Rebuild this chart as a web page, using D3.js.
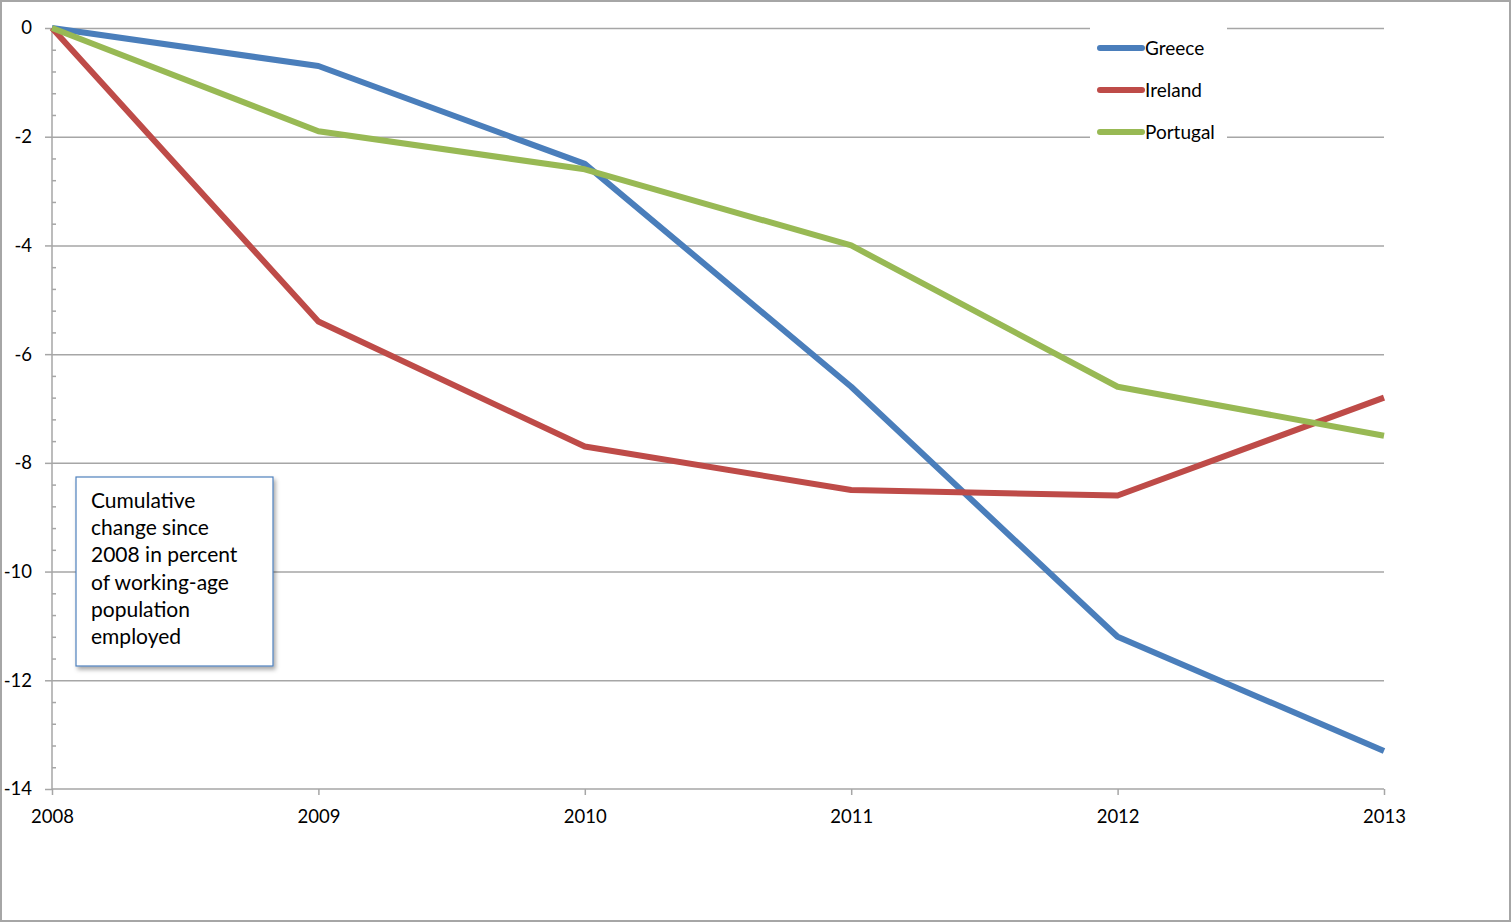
<!DOCTYPE html>
<html>
<head>
<meta charset="utf-8">
<script src="https://cdn.jsdelivr.net/npm/d3@7"></script>
<style>
  body { margin: 0; background: #fff; }
  svg { display: block; font-family: Lato, "Open Sans", sans-serif; }
  .axis text { font-size: 18.5px; fill: #000; font-family: Lato, "Open Sans", sans-serif; }
  .axis line { stroke: #a6a6a6; stroke-width: 1.5px; }
  .grid line { stroke: #a6a6a6; stroke-width: 1.5px; }
  .grid text { display: none; }
  .line { fill: none; stroke-width: 6px; stroke-linejoin: round; }
</style>
</head>
<body>
<div id="chart"></div>
<script>
// data
var years = [2008, 2009, 2010, 2011, 2012, 2013];
var greece = [0, -0.7, -2.5, -6.6, -11.2, -13.3];
var ireland = [0, -5.4, -7.7, -8.5, -8.6, -6.8];
var portugal = [0, -1.9, -2.6, -4.0, -6.6, -7.5];
var yTicks = [0, -2, -4, -6, -8, -10, -12, -14];
var seriesNames = ['Greece', 'Ireland', 'Portugal'];
var seriesColors = ['#4a7ebb', '#be4b48', '#98b954'];
var noteLines = ['Cumulative', 'change since', '2008 in percent', 'of working-age', 'population', 'employed'];

var series = [greece, ireland, portugal];

// set the dimensions and margins of the graph
var W = 1512, H = 923;
var margin = { top: 28, left: 52 };
var width = 1384 - 52;
var height = 789 - 28;

var svg = d3.select('#chart').append('svg')
  .attr('width', W)
  .attr('height', H);

// outer frame
svg.append('rect')
  .attr('x', 1)
  .attr('y', 1)
  .attr('width', W - 3)
  .attr('height', H - 3)
  .style('fill', 'none')
  .style('stroke', '#a6a6a6')
  .style('stroke-width', 2);

var defs = svg.append('defs');
var shadow = defs.append('filter').attr('id', 'shadow')
  .attr('x', '-10%').attr('y', '-10%').attr('width', '130%').attr('height', '130%');
shadow.append('feDropShadow')
  .attr('dx', 2).attr('dy', 3).attr('stdDeviation', 2)
  .attr('flood-color', '#000').attr('flood-opacity', 0.35);

var g = svg.append('g')
  .attr('transform', 'translate(' + margin.left + ',' + margin.top + ')');

// set the ranges
var x = d3.scaleLinear().domain([2008, 2013]).range([0, width]);
var y = d3.scaleLinear().domain([0, -14]).range([0, height]);

// gridlines
g.append('g')
  .attr('class', 'grid')
  .call(d3.axisLeft(y).tickValues(yTicks.slice(0, -1)).tickSize(-width))
  .call(function (s) { s.select('.domain').remove(); });

// minor ticks
var minor = d3.range(0, -14, -0.4).filter(function (v) {
  return Math.abs(v / 2 - Math.round(v / 2)) > 0.01;
});
g.append('g')
  .attr('class', 'axis')
  .call(d3.axisLeft(y).tickValues(minor).tickSize(-4).tickFormat(''))
  .call(function (s) { s.select('.domain').remove(); });

// y axis
g.append('g')
  .attr('class', 'axis')
  .call(d3.axisLeft(y).tickValues(yTicks).tickSize(7).tickPadding(13).tickFormat(d3.format('d')))
  .call(function (s) {
    s.select('.domain').remove();
    s.selectAll('text').text(function (d) { return d === 0 ? '0' : '-' + Math.abs(d); });
  });

g.append('line')
  .attr('x1', 0).attr('x2', 0).attr('y1', 0).attr('y2', height)
  .style('stroke', '#a6a6a6').style('stroke-width', 1.5);

// x axis
g.append('g')
  .attr('class', 'axis')
  .attr('transform', 'translate(0,' + height + ')')
  .call(d3.axisBottom(x).tickValues(years).tickSize(6).tickPadding(15).tickFormat(d3.format('d')))
  .call(function (s) { s.select('.domain').remove(); });

g.append('line')
  .attr('x1', 0).attr('x2', width).attr('y1', height).attr('y2', height)
  .style('stroke', '#a6a6a6').style('stroke-width', 1.5);

// lines
var valueline = d3.line()
  .x(function (d, i) { return x(years[i]); })
  .y(function (d) { return y(d); });

series.forEach(function (s, i) {
  g.append('path')
    .datum(s)
    .attr('class', 'line')
    .style('stroke', seriesColors[i])
    .attr('d', valueline);
});

// legend
var legend = svg.append('g').attr('transform', 'translate(1090,20)');
legend.append('rect')
  .attr('width', 137)
  .attr('height', 130)
  .style('fill', '#fff');

seriesNames.forEach(function (name, i) {
  var ly = 28 + i * 42;
  legend.append('line')
    .attr('x1', 10).attr('x2', 52)
    .attr('y1', ly).attr('y2', ly)
    .style('stroke', seriesColors[i])
    .style('stroke-width', 6)
    .style('stroke-linecap', 'round');
  legend.append('text')
    .attr('x', 55)
    .attr('y', ly + 7)
    .style('font-size', '19px')
    .text(name);
});

// note box
var note = svg.append('g').attr('transform', 'translate(76,477)');
note.append('rect')
  .attr('width', 197)
  .attr('height', 189)
  .style('fill', '#fff')
  .style('stroke', '#4f81bd')
  .style('stroke-width', 1.2)
  .attr('filter', 'url(#shadow)');

note.selectAll('text.note')
  .data(noteLines)
  .enter().append('text')
  .attr('class', 'note')
  .attr('x', 15)
  .attr('y', function (d, i) { return 31 + i * 27.2; })
  .style('font-size', '21px')
  .text(function (d) { return d; });
</script>
</body>
</html>
